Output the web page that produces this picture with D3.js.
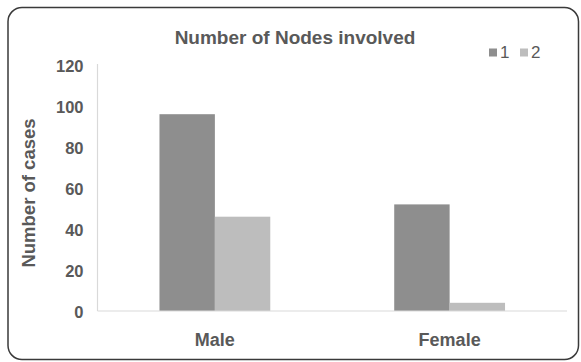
<!DOCTYPE html>
<html>
<head>
<meta charset="utf-8">
<script src="https://cdn.jsdelivr.net/npm/d3@7"></script>
<style>
html,body{margin:0;padding:0;background:#fff;}
svg{display:block;}
text{font-family:"Liberation Sans",Arial,sans-serif;}
</style>
</head>
<body>
<svg id="chart" width="581" height="362"></svg>
<script>
const categories = ["Male", "Female"];
const seriesNames = ["1", "2"];
const series1 = [96, 52];
const series2 = [46, 4];
const yTicks = [0, 20, 40, 60, 80, 100, 120];
const title = "Number of Nodes involved";
const yTitle = "Number of cases";

const colors = ["#8e8e8e", "#bdbdbd"];
const textColor = "#595959";

const svg = d3.select("#chart");

// frame
svg.append("rect")
  .attr("x", 8).attr("y", 7.5).attr("width", 570.5).attr("height", 352)
  .attr("rx", 14).attr("ry", 14)
  .attr("fill", "#fff").attr("stroke", "#3a3a3a").attr("stroke-width", 1.5);

const plot = {left: 97.5, right: 567, top: 65, bottom: 311};

const x0 = d3.scaleBand().domain(categories)
  .range([plot.left, plot.right])
  .paddingInner(0.528).paddingOuter(0.264);
const x1 = d3.scaleBand().domain(seriesNames).range([0, x0.bandwidth()]);
const y = d3.scaleLinear().domain([0, 120]).range([plot.bottom, plot.top]);

const data = categories.map((c, i) => ({cat: c, vals: [series1[i], series2[i]]}));

// bars
const g = svg.append("g");
data.forEach(d => {
  d.vals.forEach((v, j) => {
    g.append("rect")
      .attr("x", x0(d.cat) + x1(seriesNames[j]))
      .attr("y", y(v))
      .attr("width", x1.bandwidth())
      .attr("height", y(0) - y(v))
      .attr("fill", colors[j]);
  });
});

// y axis
const yAxis = d3.axisLeft(y).tickValues(yTicks).tickSize(0).tickPadding(14);
const ya = svg.append("g").attr("transform", `translate(${plot.left},0)`).call(yAxis);
ya.select(".domain").attr("stroke", "#d9d9d9").attr("stroke-width", 1.2)
  .attr("d", `M0,${plot.top - 1}V${plot.bottom}`);
ya.selectAll(".tick text")
  .attr("font-size", 16.5).attr("font-weight", "bold")
  .attr("fill", textColor).attr("dy", "0.4em")
  .style("font-family", '"Liberation Sans", Arial, sans-serif');

// x axis
const xAxis = d3.axisBottom(x0).tickSize(0).tickPadding(22);
const xa = svg.append("g").attr("transform", `translate(0,${plot.bottom})`).call(xAxis);
xa.select(".domain").attr("stroke", "#d9d9d9").attr("stroke-width", 1.2)
  .attr("d", `M${plot.left},0H${plot.right}`);
xa.selectAll(".tick text")
  .attr("font-size", 18).attr("font-weight", "bold")
  .attr("fill", textColor)
  .style("font-family", '"Liberation Sans", Arial, sans-serif');

// title
svg.append("text")
  .attr("x", 295).attr("y", 44)
  .attr("text-anchor", "middle")
  .attr("font-size", 19).attr("font-weight", "bold")
  .attr("fill", textColor)
  .text(title);

// y title
svg.append("text")
  .attr("transform", "translate(35,193) rotate(-90)")
  .attr("text-anchor", "middle")
  .attr("font-size", 18.5).attr("font-weight", "bold")
  .attr("fill", textColor)
  .text(yTitle);

// legend
const legendX = [489, 520];
seriesNames.forEach((s, j) => {
  svg.append("rect")
    .attr("x", legendX[j]).attr("y", 48.5)
    .attr("width", 8).attr("height", 8)
    .attr("fill", colors[j]);
  svg.append("text")
    .attr("x", legendX[j] + 11).attr("y", 57.5)
    .attr("font-size", 17)
    .attr("fill", textColor)
    .text(s);
});
</script>
</body>
</html>
